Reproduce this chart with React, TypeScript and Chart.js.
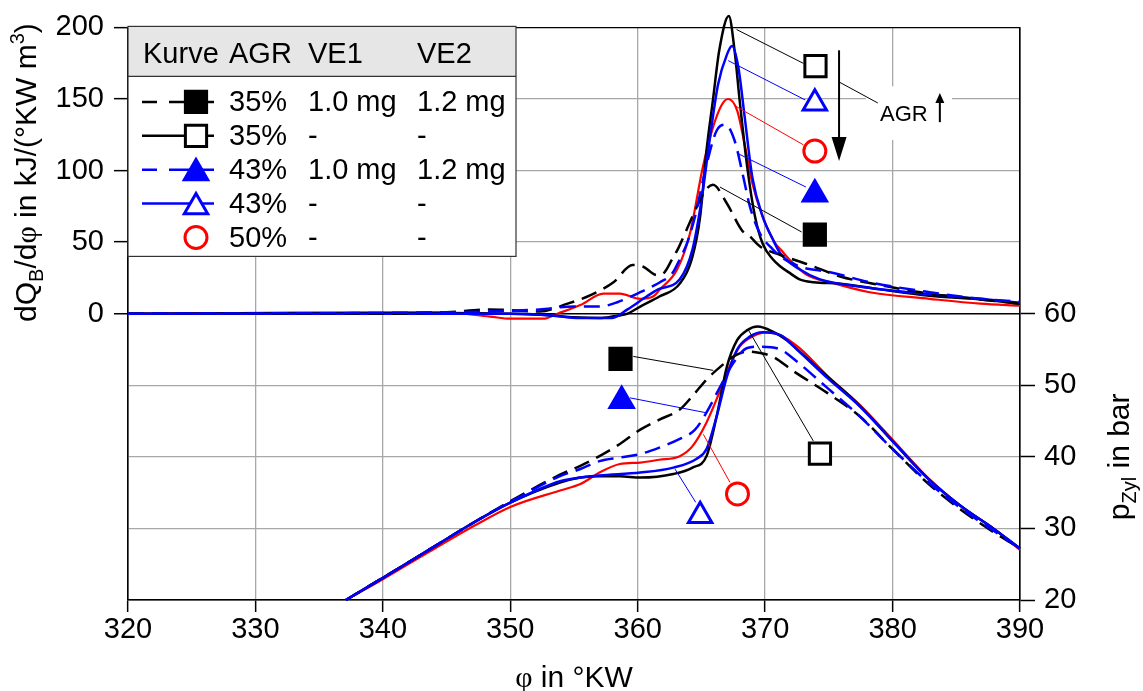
import React, { useEffect, useRef } from 'react';
import { Chart, registerables } from 'chart.js';

Chart.register(...registerables);

const FONT = "'Liberation Sans', Arial, Helvetica, sans-serif";
const SERIF = "'Liberation Serif', 'Times New Roman', serif";
const BLACK = '#000000';
const BLUE = '#0000ff';
const RED = '#ff0000';
const GRID = '#a8a8a8';

type Pt = [number, number];

// axes
const X_TICKS = [320, 330, 340, 350, 360, 370, 380, 390];
const HR_MIN = -200, HR_MAX = 200, HR_STEP = 50; // only 0..200 labelled (upper panel)
const P_MIN = 20, P_MAX = 100, P_STEP = 10; // only 20..60 labelled (lower panel)

// heat release rate dQB/dphi [phi, kJ/(°KW m3)]
const HR_35_VE: Pt[] = [[320,0],[340,0],[345,1],[348.4,3],[350,2.5],[352.3,1.5],[354.5,7],[356.3,13],[358.1,22],[359.6,34],[360.4,33],[361.5,27],[362,28],[362.7,38],[363.2,46],[364.3,68],[365.3,86],[365.9,90],[367,77],[368.2,58],[368.8,54],[369.6,47],[371.2,41],[373.5,34],[375.9,26],[379,20],[382.9,14],[386.9,10],[390,7]];
const HR_35: Pt[] = [[320,0],[333,0.5],[345,0.5],[350,0],[353,-1],[355,-2.5],[357,-3],[358,-2],[359.2,0],[360.2,5],[361.7,12],[363.3,21],[364.3,40],[364.9,68],[365.4,114],[365.9,149],[366.4,184],[367.15,208],[367.6,184],[368,149],[368.6,102],[369.2,68],[369.8,49],[370.6,38],[371.2,33],[372,28],[372.7,24],[373.8,22],[375.9,21],[379,17],[382.9,12.5],[386.9,10],[390,7]];
const HR_43_VE: Pt[] = [[320,0],[345,1],[350,2],[352.3,3],[355,5],[357,5],[358.4,8],[360.2,15],[361.75,22],[362.7,28],[363.3,38],[363.9,50],[364.5,68],[365.4,104],[366.2,128],[366.9,132],[367.6,121],[368.3,95],[368.8,75],[369.6,56],[370.6,45],[371.2,40],[372.7,33],[375.1,29],[378.2,22],[382.9,15],[386.9,10.4],[390,8.4]];
const HR_43: Pt[] = [[320,0],[350,0],[353,-1],[355.5,-3],[358,-3],[359.2,3],[360.7,12],[361.6,17],[363.3,24],[364.3,45],[365,79],[365.7,125],[366.3,160],[367,181],[367.4,187],[367.9,172],[368.4,137],[369,95],[369.8,68],[370.6,52],[371.2,42],[372.7,31],[374.3,24],[377.4,19],[381.6,14.6],[386.9,10.4],[390,7.7]];
const HR_50: Pt[] = [[320,0],[344.5,1],[348.4,-2],[350,-3.5],[352.6,-3.5],[353.7,0],[355.5,6],[357.3,14],[358.6,14],[360.2,10.4],[361.2,12],[361.75,17],[363.1,31],[364.1,56],[365.1,102],[365.9,130],[366.6,146],[367.1,150],[367.8,142],[368.4,118],[369,91],[369.8,68],[370.8,49],[371.2,45],[372,37],[373.3,27],[375.1,22],[378.2,15],[382.9,10.4],[386.9,7],[390,5.6]];

// cylinder pressure p_Zyl [phi, bar]
const P_35_VE: Pt[] = [[337.1,20],[340,23.1],[343.6,27],[347.2,30.9],[350,33.8],[353.9,37.5],[355.5,38.75],[357,40.1],[358.6,41.8],[360.2,43.8],[361.7,45.2],[363.3,46.6],[364.3,48.5],[365.4,50.8],[366.5,52.6],[367.5,54],[368.6,54.7],[369.6,54.5],[370.6,54],[372.2,52],[374.9,48.9],[377.4,45.7],[380,41.1],[382.7,36.4],[385.3,32.7],[387.9,29.5],[390,27.2]];
const P_35: Pt[] = [[337.1,20],[340,23.1],[343.6,27],[347.2,30.9],[350,33.6],[353.9,36.4],[355.5,37.1],[357,37.3],[358.6,37.3],[360.2,37.1],[362.8,37.6],[364.3,38.5],[365.4,40.1],[366.2,45.7],[367,52.6],[367.8,56.3],[368.6,57.7],[369.4,58.2],[370.6,57.5],[371.7,56.3],[372.2,55.5],[374.9,51.2],[377.4,47.2],[380,42.2],[382.7,37.1],[385.3,33.2],[387.9,30],[390,27.2]];
const P_43_VE: Pt[] = [[337.1,20],[340,23.1],[343.6,27],[347.2,30.9],[350,33.7],[353.9,37.3],[355.5,38.3],[357,39.4],[358.6,39.9],[360.2,40.4],[361.7,41.3],[363.3,42.5],[364.5,43.8],[365.4,46.2],[366.5,49.9],[367.5,53.1],[368.6,55.2],[369.6,55.4],[371.2,55],[372.3,53.6],[374.9,49.6],[377.4,45.7],[380,41.1],[382.7,36.6],[385.3,32.9],[387.9,29.7],[390,27.2]];
const P_43: Pt[] = [[337.1,20],[340,23.1],[343.6,27],[347.2,30.9],[350,33.6],[353.9,36.6],[355.5,37.1],[357,37.4],[360.2,37.8],[362.8,38.5],[364.6,39.7],[365.4,41.1],[366.2,45.7],[367,51.2],[367.8,55],[368.8,56.8],[369.8,57.4],[371.2,57],[372.5,55],[374.9,51],[377.4,47.1],[380,42.2],[382.7,37.1],[385.3,33.2],[387.9,30],[390,27.2]];
const P_50: Pt[] = [[337.1,20],[340,22.9],[343.6,26.7],[347.2,30.4],[350,33],[353.9,35.3],[355.5,36.2],[357,37.8],[358.6,39],[360.2,39.2],[361.7,39.6],[363.3,40.1],[364.3,41.5],[365.4,44.8],[366.5,49.4],[367.2,52.6],[368,55.4],[369,56.8],[370.1,57.4],[371.2,57],[372.7,55.2],[374.9,51.3],[377.4,47.3],[380,42.4],[382.7,37.2],[385.3,33.2],[387.9,30],[390,27]];

// curve labels (markers) and their leader lines, in data units
const HR_MARK_35_VE: Pt = [373.9, 55.2];
const HR_MARK_35: Pt = [373.95, 173.0];
const HR_MARK_43_VE: Pt = [373.9, 83.4];
const HR_MARK_43: Pt = [373.9, 147.0];
const HR_MARK_50: Pt = [373.9, 113.6];
const HR_LEAD_35_VE: Pt[] = [[366.45, 88.5], [372.86, 57.1]];
const HR_LEAD_35: Pt[] = [[367.76, 198.5], [373.0, 174.9]];
const HR_LEAD_43_VE: Pt[] = [[367.9, 111.7], [373.2, 88.5]];
const HR_LEAD_43: Pt[] = [[367.1, 176.8], [373.15, 149.3]];
const HR_LEAD_50: Pt[] = [[367.6, 145.4], [373.0, 118.0]];

const P_MARK_35_VE: Pt = [358.65, 53.7];
const P_MARK_35: Pt = [374.3, 40.46];
const P_MARK_43_VE: Pt = [358.74, 47.85];
const P_MARK_43: Pt = [364.9, 31.76];
const P_MARK_50: Pt = [367.83, 34.82];
const P_LEAD_35_VE: Pt[] = [[359.65, 54.03], [365.93, 52.08]];
const P_LEAD_35: Pt[] = [[368.68, 57.74], [373.78, 42.22]];
const P_LEAD_43_VE: Pt[] = [[359.4, 48.24], [365.4, 46.15]];
const P_LEAD_43: Pt[] = [[362.93, 38.29], [364.55, 33.65]];
const P_LEAD_50: Pt[] = [[365.15, 43.15], [367.24, 36.43]];

// AGR trend annotation (upper panel, data units)
const AGR_ARROW: Pt[] = [[375.8, 184], [375.8, 106.6]];
const AGR_LEAD: Pt[] = [[375.84, 161.7], [378.84, 147.2]];
const AGR_LABEL_POS: Pt = [379.01, 134.5];
const AGR_UP_ARROW: Pt[] = [[383.71, 133.8], [383.71, 154.2]];
const AGR_BOX: Pt[] = [[377.9, 158.9], [384.66, 121.3]];

// legend table
const LEGEND_HEADER = ['Kurve', 'AGR', 'VE1', 'VE2'];
const LEGEND_AGR = ['35%', '35%', '43%', '43%', '50%'];
const LEGEND_VE1 = ['1.0 mg', '-', '1.0 mg', '-', '-'];
const LEGEND_VE2 = ['1.2 mg', '-', '1.2 mg', '-', '-'];

type Style = { color: string; dash: number[] | null; width: number; marker: 'rect' | 'triangle' | 'circle'; filled: boolean; line: boolean };
const ST_35_VE: Style = { color: BLACK, dash: [16, 8], width: 2.5, marker: 'rect', filled: true, line: true };
const ST_35: Style = { color: BLACK, dash: null, width: 2.5, marker: 'rect', filled: false, line: true };
const ST_43_VE: Style = { color: BLUE, dash: [16, 8], width: 2.5, marker: 'triangle', filled: true, line: true };
const ST_43: Style = { color: BLUE, dash: null, width: 2.5, marker: 'triangle', filled: false, line: true };
const ST_50: Style = { color: RED, dash: null, width: 2.2, marker: 'circle', filled: false, line: false };
const LEGEND_STYLES = [ST_35_VE, ST_35, ST_43_VE, ST_43, ST_50];

const RADIUS: Record<string, number> = { rect: 15, triangle: 13.5, circle: 11 };

const xy = (a: Pt[]) => a.map(([x, y]) => ({ x, y }));

function curve(data: Pt[], axis: string, s: Style) {
  return {
    data: xy(data), yAxisID: axis, showLine: true, borderColor: s.color, borderWidth: s.width,
    borderDash: s.dash || [], pointRadius: 0, pointHoverRadius: 0, cubicInterpolationMode: 'monotone', fill: false,
    clip: { left: 2, top: 20, right: 2, bottom: 2 },
  };
}
function leader(data: Pt[], axis: string, s: Style) {
  return { data: xy(data), yAxisID: axis, showLine: true, borderColor: s.color, borderWidth: 1, pointRadius: 0, pointHoverRadius: 0, fill: false };
}
function marker(pt: Pt, axis: string, s: Style) {
  const r = RADIUS[s.marker];
  return {
    data: xy([pt]), yAxisID: axis, showLine: false, pointStyle: s.marker, pointRadius: r, pointHoverRadius: r,
    pointBorderWidth: 3, pointHoverBorderWidth: 3, pointBorderColor: s.color,
    pointBackgroundColor: s.filled ? s.color : '#ffffff', clip: false,
  };
}

type Seg = { t: string; size?: number; dy?: number; family?: string };
function drawRich(ctx: CanvasRenderingContext2D, segs: Seg[], x: number, y: number) {
  let total = 0;
  for (const s of segs) {
    ctx.font = `${s.size ?? 30}px ${s.family ?? FONT}`;
    total += ctx.measureText(s.t).width;
  }
  let cx = x - total / 2;
  ctx.textAlign = 'left';
  ctx.textBaseline = 'alphabetic';
  ctx.fillStyle = BLACK;
  for (const s of segs) {
    ctx.font = `${s.size ?? 30}px ${s.family ?? FONT}`;
    ctx.fillText(s.t, cx, y + (s.dy ?? 0));
    cx += ctx.measureText(s.t).width;
  }
}

function drawLegendMarker(ctx: CanvasRenderingContext2D, s: Style, x: number, y: number) {
  const r = RADIUS[s.marker];
  ctx.save();
  ctx.lineWidth = 3;
  ctx.strokeStyle = s.color;
  ctx.fillStyle = s.filled ? s.color : '#ffffff';
  ctx.setLineDash([]);
  ctx.beginPath();
  if (s.marker === 'rect') {
    const h = r * Math.SQRT1_2;
    ctx.rect(x - h, y - h, 2 * h, 2 * h);
  } else if (s.marker === 'triangle') {
    const yc = y + r / 4;
    ctx.moveTo(x, yc - r);
    ctx.lineTo(x + r * 0.866, yc + r / 2);
    ctx.lineTo(x - r * 0.866, yc + r / 2);
    ctx.closePath();
  } else {
    ctx.arc(x, y, r, 0, Math.PI * 2);
  }
  ctx.fill();
  ctx.stroke();
  ctx.restore();
}

const overlayPlugin = {
  id: 'overlay',
  afterDatasetsDraw(chart: any) {
    const ctx: CanvasRenderingContext2D = chart.ctx;
    const xs = chart.scales.x, ys = chart.scales.y;
    const px = (v: number) => xs.getPixelForValue(v);
    const py = (v: number) => ys.getPixelForValue(v);
    const area = chart.chartArea;
    ctx.save();

    // --- AGR annotation ---
    ctx.fillStyle = '#ffffff';
    const bx0 = px(AGR_BOX[0][0]), by0 = py(AGR_BOX[0][1]);
    const bx1 = px(AGR_BOX[1][0]), by1 = py(AGR_BOX[1][1]);
    ctx.fillRect(bx0, by0, bx1 - bx0, by1 - by0);
    const ax = px(AGR_ARROW[0][0]);
    const aTop = py(AGR_ARROW[0][1]);
    const aTip = py(AGR_ARROW[1][1]);
    ctx.strokeStyle = BLACK;
    ctx.lineWidth = 2;
    ctx.beginPath(); ctx.moveTo(ax, aTop); ctx.lineTo(ax, aTip - 20); ctx.stroke();
    ctx.fillStyle = BLACK;
    ctx.beginPath(); ctx.moveTo(ax - 7.5, aTip - 24); ctx.lineTo(ax + 7.5, aTip - 24); ctx.lineTo(ax, aTip); ctx.closePath(); ctx.fill();
    ctx.lineWidth = 1;
    ctx.beginPath(); ctx.moveTo(px(AGR_LEAD[0][0]), py(AGR_LEAD[0][1])); ctx.lineTo(px(AGR_LEAD[1][0]), py(AGR_LEAD[1][1])); ctx.stroke();
    ctx.font = `22px ${FONT}`;
    ctx.textAlign = 'left'; ctx.textBaseline = 'alphabetic';
    ctx.fillText('AGR', px(AGR_LABEL_POS[0]), py(AGR_LABEL_POS[1]));
    const ux = px(AGR_UP_ARROW[0][0]);
    const uBot = py(AGR_UP_ARROW[0][1]);
    const uTip = py(AGR_UP_ARROW[1][1]);
    ctx.lineWidth = 2;
    ctx.beginPath(); ctx.moveTo(ux, uBot); ctx.lineTo(ux, uTip + 8); ctx.stroke();
    ctx.beginPath(); ctx.moveTo(ux - 4.5, uTip + 10); ctx.lineTo(ux + 4.5, uTip + 10); ctx.lineTo(ux, uTip); ctx.closePath(); ctx.fill();

    // --- legend table ---
    const L = area.left, T = area.top - 1, R = L + 388, HB = T + 50, B = T + 230;
    ctx.fillStyle = '#ffffff';
    ctx.fillRect(L, T, R - L, B - T);
    ctx.fillStyle = '#e6e6e6';
    ctx.fillRect(L, T, R - L, HB - T);
    ctx.strokeStyle = '#333333';
    ctx.lineWidth = 1.2;
    ctx.strokeRect(L, T, R - L, B - T);
    ctx.beginPath(); ctx.moveTo(L, HB); ctx.lineTo(R, HB); ctx.stroke();
    const colX = [L + 15, L + 101, L + 180, L + 289];
    ctx.fillStyle = BLACK;
    ctx.font = `29px ${FONT}`;
    ctx.textAlign = 'left'; ctx.textBaseline = 'alphabetic';
    LEGEND_HEADER.forEach((h, i) => ctx.fillText(h, colX[i], T + 37));
    for (let i = 0; i < LEGEND_STYLES.length; i++) {
      const s = LEGEND_STYLES[i];
      const ry = T + 75.5 + i * 33.9;
      const mx = L + 68;
      if (s.line) {
        ctx.save();
        ctx.strokeStyle = s.color;
        ctx.lineWidth = s.width;
        ctx.setLineDash([]);
        ctx.beginPath();
        if (s.dash) {
          ctx.moveTo(L + 14, ry); ctx.lineTo(L + 29, ry);
          ctx.moveTo(L + 41, ry); ctx.lineTo(L + 86, ry);
        } else {
          ctx.moveTo(L + 14, ry); ctx.lineTo(L + 86, ry);
        }
        ctx.stroke();
        ctx.restore();
      }
      drawLegendMarker(ctx, s, mx, ry);
      ctx.fillStyle = BLACK;
      ctx.font = `29px ${FONT}`;
      ctx.textAlign = 'left'; ctx.textBaseline = 'alphabetic';
      const by = ry + 9.5;
      ctx.fillText(LEGEND_AGR[i], colX[1], by);
      ctx.fillText(LEGEND_VE1[i], colX[2], by);
      ctx.fillText(LEGEND_VE2[i], colX[3], by);
    }
    ctx.restore();
  },
  afterDraw(chart: any) {
    const ctx: CanvasRenderingContext2D = chart.ctx;
    const area = chart.chartArea;
    ctx.save();
    ctx.save();
    ctx.translate(36, (area.top + chart.scales.y.getPixelForValue(0)) / 2 + 2);
    ctx.rotate(-Math.PI / 2);
    drawRich(ctx, [
      { t: 'dQ' }, { t: 'B', size: 20, dy: 7 }, { t: '/d' }, { t: 'φ', family: SERIF },
      { t: ' in kJ/(°KW m' }, { t: '3', size: 20, dy: -12 }, { t: ')' },
    ], 0, 0);
    ctx.restore();
    ctx.save();
    ctx.translate(1129, (area.bottom + chart.scales.y.getPixelForValue(0)) / 2);
    ctx.rotate(-Math.PI / 2);
    drawRich(ctx, [{ t: 'p' }, { t: 'Zyl', size: 20, dy: 7 }, { t: ' in bar' }], 0, 0);
    ctx.restore();
    drawRich(ctx, [{ t: 'φ', family: SERIF }, { t: ' in °KW' }], (area.left + area.right) / 2, 687);
    ctx.restore();
  },
};

export default function App() {
  const ref = useRef<HTMLCanvasElement>(null);
  useEffect(() => {
    const canvas = ref.current;
    if (!canvas) return;
    const datasets: any[] = [
      marker(HR_MARK_35_VE, 'y', ST_35_VE), marker(HR_MARK_35, 'y', ST_35), marker(HR_MARK_43_VE, 'y', ST_43_VE),
      marker(HR_MARK_43, 'y', ST_43), marker(HR_MARK_50, 'y', ST_50),
      marker(P_MARK_35_VE, 'y2', ST_35_VE), marker(P_MARK_35, 'y2', ST_35), marker(P_MARK_43_VE, 'y2', ST_43_VE),
      marker(P_MARK_43, 'y2', ST_43), marker(P_MARK_50, 'y2', ST_50),
      leader(HR_LEAD_35_VE, 'y', ST_35_VE), leader(HR_LEAD_35, 'y', ST_35), leader(HR_LEAD_43_VE, 'y', ST_43_VE),
      leader(HR_LEAD_43, 'y', ST_43), leader(HR_LEAD_50, 'y', ST_50),
      leader(P_LEAD_35_VE, 'y2', ST_35_VE), leader(P_LEAD_35, 'y2', ST_35), leader(P_LEAD_43_VE, 'y2', ST_43_VE),
      leader(P_LEAD_43, 'y2', ST_43), leader(P_LEAD_50, 'y2', ST_50),
      curve(HR_43_VE, 'y', ST_43_VE), curve(HR_35_VE, 'y', ST_35_VE), curve(HR_43, 'y', ST_43),
      curve(HR_35, 'y', ST_35), curve(HR_50, 'y', ST_50),
      curve(P_43_VE, 'y2', ST_43_VE), curve(P_35_VE, 'y2', ST_35_VE), curve(P_43, 'y2', ST_43),
      curve(P_35, 'y2', ST_35), curve(P_50, 'y2', ST_50),
    ];
    const tickFont = { family: FONT, size: 29 };
    const chart = new Chart(canvas, {
      type: 'scatter',
      data: { datasets },
      plugins: [overlayPlugin],
      options: {
        animation: false,
        responsive: false,
        maintainAspectRatio: false,
        layout: { padding: { top: 25, left: 0, right: 0, bottom: 0 } },
        plugins: { legend: { display: false }, tooltip: { enabled: false } },
        events: [],
        scales: {
          x: {
            type: 'linear', position: 'bottom', min: X_TICKS[0], max: X_TICKS[X_TICKS.length - 1],
            afterBuildTicks: (s: any) => { s.ticks = X_TICKS.map((v) => ({ value: v })); },
            afterFit: (s: any) => { s.height = 91; },
            ticks: { font: tickFont, color: BLACK, padding: 1, autoSkip: false, maxRotation: 0 },
            grid: {
              color: (c: any) => (c.tick && (c.tick.value === X_TICKS[0] || c.tick.value === X_TICKS[X_TICKS.length - 1]) ? BLACK : GRID),
              lineWidth: 1.3, tickLength: 12, tickColor: BLACK, tickWidth: 1.5,
            },
            border: { color: BLACK, width: 1.5 },
          },
          y: {
            type: 'linear', position: 'left', min: HR_MIN, max: HR_MAX,
            afterFit: (s: any) => { s.width = 128; },
            ticks: { stepSize: HR_STEP, font: tickFont, color: BLACK, padding: 10, callback: (v: any) => (v >= 0 ? String(v) : '') },
            grid: {
              color: (c: any) => (c.tick && (c.tick.value === 0 || c.tick.value === HR_MAX || c.tick.value === HR_MIN) ? BLACK : GRID),
              lineWidth: (c: any) => (c.tick && c.tick.value === 0 ? 1.5 : 1.3),
              tickLength: 14,
              tickColor: (c: any) => (c.tick && c.tick.value >= 0 ? BLACK : 'rgba(0,0,0,0)'),
              tickWidth: 1.5,
            },
            border: { color: BLACK, width: 1.5 },
          },
          y2: {
            type: 'linear', position: 'right', min: P_MIN, max: P_MAX,
            afterFit: (s: any) => { s.width = 123; },
            ticks: { stepSize: P_STEP, font: tickFont, color: BLACK, padding: 9, callback: (v: any) => (v <= 60 ? String(v) : '') },
            grid: {
              drawOnChartArea: false, tickLength: 15, tickWidth: 1.5,
              tickColor: (c: any) => (c.tick && c.tick.value <= 60 ? BLACK : 'rgba(0,0,0,0)'),
            },
            border: { color: BLACK, width: 1.5 },
          },
        },
      } as any,
    } as any);
    return () => chart.destroy();
  }, []);
  return (
    <div style={{ position: 'absolute', left: 0, top: 0, width: 1143, height: 691, background: '#ffffff' }}>
      <canvas ref={ref} width={1143} height={691} style={{ display: 'block', width: '1143px', height: '691px' }} />
    </div>
  );
}
